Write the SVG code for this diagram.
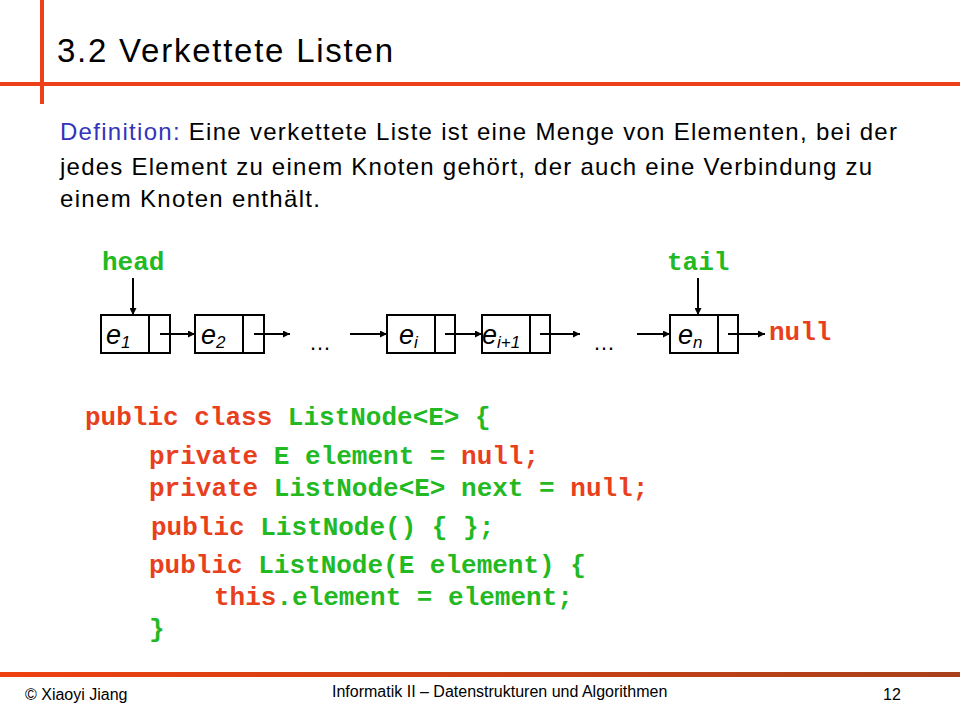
<svg xmlns="http://www.w3.org/2000/svg" width="960" height="720" viewBox="0 0 960 720">
<defs>
<marker id="ah" viewBox="0 0 10 10" refX="10" refY="5" markerWidth="7" markerHeight="7" markerUnits="userSpaceOnUse" orient="auto"><path d="M0,0 L10,5 L0,10 z" fill="#000"/></marker>
<linearGradient id="bar" x1="0" x2="1"><stop offset="0" stop-color="#f0400f"/><stop offset="1" stop-color="#a8401a"/></linearGradient>
</defs>
<style>
.s{font-family:"Liberation Sans",Arial,sans-serif}
.m{font-family:"Liberation Mono","Courier New",monospace;font-weight:bold;font-size:26px}
.r{fill:#e8401c}.g{fill:#22b922}
.box{fill:none;stroke:#000;stroke-width:2}
.e{font-family:"Liberation Sans",Arial,sans-serif;font-style:italic;font-size:27px}
.ar{stroke:#000;stroke-width:2;marker-end:url(#ah)}
</style>
<rect width="960" height="720" fill="#fff"/>
<rect x="0" y="82" width="960" height="4" fill="#ee4018"/>
<rect x="40" y="0" width="4" height="104" fill="#ee4018"/>
<rect x="0" y="672" width="960" height="5" fill="url(#bar)"/>
<text class="s" x="57" y="62" font-size="33" textLength="336">3.2 Verkettete  Listen</text>
<text class="s" x="60" y="140" font-size="24" textLength="837"><tspan fill="#3333bb">Definition:</tspan> Eine verkettete Liste ist eine Menge von Elementen, bei  der</text>
<text class="s" x="60" y="175" font-size="24" textLength="812">jedes Element zu einem Knoten gehört, der auch eine Verbindung zu</text>
<text class="s" x="60" y="207" font-size="24" textLength="260">einem Knoten enthält.</text>
<text class="m g" x="102" y="270" font-size="24">head</text>
<text class="m g" x="667" y="270" font-size="24">tail</text>
<text class="m r" x="769" y="340" font-size="24">null</text>
<g id="n1"><rect class="box" x="101" y="315" width="69" height="38"/><line class="box" x1="149" y1="315" x2="149" y2="353"/><text class="e" x="106" y="344">e<tspan font-size="17" dy="4">1</tspan></text></g>
<g id="n2"><rect class="box" x="195" y="315" width="69" height="38"/><line class="box" x1="243" y1="315" x2="243" y2="353"/><text class="e" x="201" y="344">e<tspan font-size="17" dy="4">2</tspan></text></g>
<g id="ni"><rect class="box" x="387" y="315" width="68" height="38"/><line class="box" x1="435" y1="315" x2="435" y2="353"/><text class="e" x="399" y="344">e<tspan font-size="17" dy="4">i</tspan></text></g>
<g id="ni1"><rect class="box" x="482" y="315" width="68" height="38"/><line class="box" x1="530" y1="315" x2="530" y2="353"/><text class="e" x="482" y="344">e<tspan font-size="17" dy="4">i+1</tspan></text></g>
<g id="nn"><rect class="box" x="670" y="315" width="68" height="38"/><line class="box" x1="718" y1="315" x2="718" y2="353"/><text class="e" x="678" y="344">e<tspan font-size="17" dy="4">n</tspan></text></g>
<text class="s" x="309" y="350" font-size="22">…</text>
<text class="s" x="593" y="350" font-size="22">…</text>
<g id="connectors">
<line class="ar" x1="160" y1="334" x2="195" y2="334"/>
<line class="ar" x1="133" y1="278" x2="133" y2="315"/>
<line class="ar" x1="698" y1="278" x2="698" y2="315"/>
<line class="ar" x1="254" y1="334" x2="290" y2="334"/>
<line class="ar" x1="350" y1="334" x2="387" y2="334"/>
<line class="ar" x1="445" y1="334" x2="482" y2="334"/>
<line class="ar" x1="540" y1="334" x2="580" y2="334"/>
<line class="ar" x1="637" y1="334" x2="670" y2="334"/>
<line class="ar" x1="728" y1="334" x2="765" y2="334"/>
</g>
<text class="m" x="85" y="425"><tspan class="r">public class </tspan><tspan class="g">ListNode&lt;E&gt; {</tspan></text>
<text class="m" x="149" y="464"><tspan class="r">private </tspan><tspan class="g">E element = </tspan><tspan class="r">null;</tspan></text>
<text class="m" x="149" y="496"><tspan class="r">private </tspan><tspan class="g">ListNode&lt;E&gt; next = </tspan><tspan class="r">null;</tspan></text>
<text class="m" x="151" y="535"><tspan class="r">public </tspan><tspan class="g">ListNode() { };</tspan></text>
<text class="m" x="149" y="573"><tspan class="r">public </tspan><tspan class="g">ListNode(E element) {</tspan></text>
<text class="m" x="214" y="605"><tspan class="r">this</tspan><tspan class="g">.element = element;</tspan></text>
<text class="m g" x="149" y="637">}</text>
<text class="s" x="25" y="700" font-size="16">© Xiaoyi Jiang</text>
<text class="s" x="332" y="697" font-size="16">Informatik II – Datenstrukturen und Algorithmen</text>
<text class="s" x="883" y="700" font-size="16">12</text>
</svg>
